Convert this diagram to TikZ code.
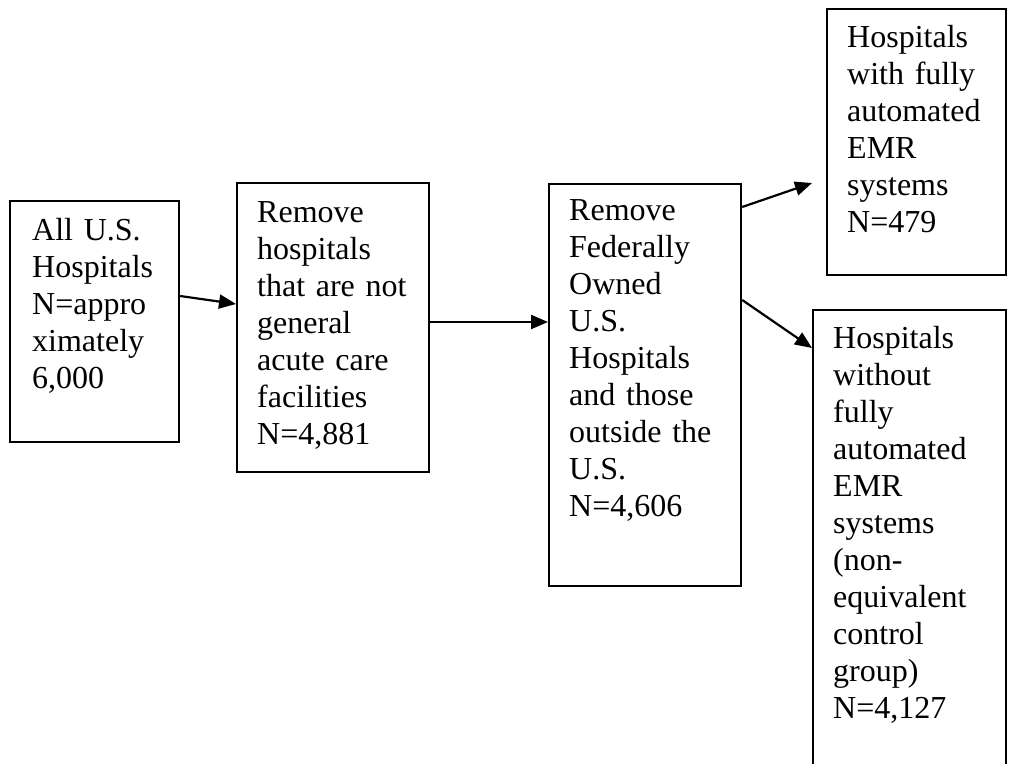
\documentclass[tikz,border=0pt]{standalone}
\usepackage{fontspec}
\setmainfont{Liberation Serif}
\usetikzlibrary{arrows.meta,calc}
\begin{document}
\begin{tikzpicture}[x=1pt,y=-1pt,
 box/.style={draw,line width=2.2pt,inner sep=0pt,anchor=north west},
 txt/.style={anchor=base west,inner sep=0pt,align=left,text width=175pt,font=\fontsize{32}{37}\selectfont},
 conn/.style={line width=2.2pt,-{Triangle[length=17pt,width=14pt]}}]
\clip (0,0) rectangle (1009,763);
\fill[white] (0,0) rectangle (1009,763);
\node[box,minimum width=169pt,minimum height=241pt] (b1) at (9,200) {};
\node[box,minimum width=192pt,minimum height=289pt] (b2) at (236,182) {};
\node[box,minimum width=192pt,minimum height=402pt] (b3) at (548,183) {};
\node[box,minimum width=179pt,minimum height=266pt] (b4) at (826,8) {};
\node[box,minimum width=193pt,minimum height=480pt] (b5) at (812,309) {};
\node[txt] (t1) at ($(b1.north west)+(23,40)$) {All U.S.\\Hospitals\\N=appro\\ximately\\6,000};
\node[txt] (t2) at ($(b2.north west)+(21,40)$) {Remove\\hospitals\\that are not\\general\\acute care\\facilities\\N=4,881};
\node[txt] (t3) at ($(b3.north west)+(21,37)$) {Remove\\Federally\\Owned\\U.S.\\Hospitals\\and those\\outside the\\U.S.\\N=4,606};
\node[txt] (t4) at ($(b4.north west)+(21,39)$) {Hospitals\\with fully\\automated\\EMR\\systems\\N=479};
\node[txt] (t5) at ($(b5.north west)+(21,39)$) {Hospitals\\without\\fully\\automated\\EMR\\systems\\(non-\\equivalent\\control\\group)\\N=4,127};
\coordinate (a4) at (812,183);
\draw[conn] ($(b1.north east)+(0,96)$) -- ($(b2.north west)+(0,122)$);
\draw[conn] ($(b2.north east)+(0,140)$) -- ($(b3.north west)+(0,139)$);
\draw[conn] ($(b3.north east)+(0,24)$) -- (a4);
\draw[conn] ($(b3.north east)+(0,117)$) -- ($(b5.north west)+(0,39)$);
\end{tikzpicture}
\end{document}
